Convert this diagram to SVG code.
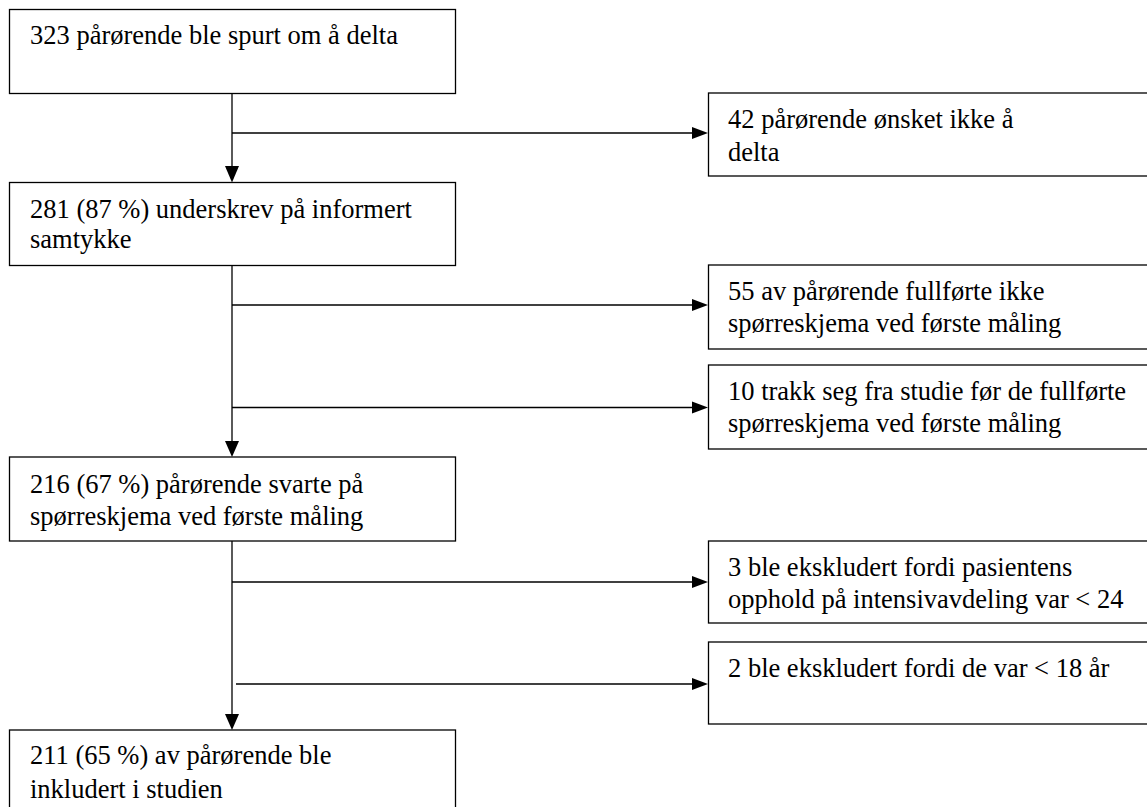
<svg xmlns="http://www.w3.org/2000/svg" width="1147" height="807" viewBox="0 0 1147 807">
<style>
.box{fill:#fff;stroke:#000;stroke-width:1.3}
.ln{fill:none;stroke:#000;stroke-width:1.3}
.ah{fill:#000;stroke:none}
text{font-family:"Liberation Serif","Times New Roman",serif;font-size:26.5px;fill:#000}
</style>
<rect width="1147" height="807" fill="#fff"/>
<g id="connectors">
<line class="ln" x1="232" y1="93.5" x2="232" y2="167"/>
<polygon class="ah" points="225,166 239,166 232,182.5"/>
<line class="ln" x1="232" y1="265.5" x2="232" y2="442"/>
<polygon class="ah" points="225,441 239,441 232,457"/>
<line class="ln" x1="232" y1="541" x2="232" y2="715"/>
<polygon class="ah" points="225,714 239,714 232,730"/>
<line class="ln" x1="232" y1="133" x2="693" y2="133"/>
<polygon class="ah" points="692,127 692,139 708,133"/>
<line class="ln" x1="232" y1="305" x2="693" y2="305"/>
<polygon class="ah" points="692,299 692,311 708,305"/>
<line class="ln" x1="232" y1="407.5" x2="693" y2="407.5"/>
<polygon class="ah" points="692,401.5 692,413.5 708,407.5"/>
<line class="ln" x1="232" y1="582" x2="693" y2="582"/>
<polygon class="ah" points="692,576 692,588 708,582"/>
<line class="ln" x1="236" y1="684" x2="693" y2="684"/>
<polygon class="ah" points="692,678 692,690 708,684"/>
</g>
<g id="n1"><rect class="box" x="9.5" y="9.5" width="446" height="84"/><text x="30" y="44">323 pårørende ble spurt om å delta</text></g>
<g id="n2"><rect class="box" x="9.5" y="182.5" width="446" height="83"/><text x="30" y="218">281 (87 %) underskrev på informert</text><text x="30" y="248">samtykke</text></g>
<g id="n3"><rect class="box" x="9.5" y="457" width="446" height="84"/><text x="30" y="493">216 (67 %) pårørende svarte på</text><text x="30" y="525">spørreskjema ved første måling</text></g>
<g id="n4"><rect class="box" x="9.5" y="730" width="446" height="100"/><text x="30" y="764">211 (65 %) av pårørende ble</text><text x="30" y="798">inkludert i studien</text></g>
<g id="r1"><rect class="box" x="708.5" y="93" width="460" height="83"/><text x="728" y="128">42 pårørende ønsket ikke å</text><text x="728" y="161">delta</text></g>
<g id="r2"><rect class="box" x="708.5" y="265" width="460" height="84"/><text x="728" y="300">55 av pårørende fullførte ikke</text><text x="728" y="332">spørreskjema ved første måling</text></g>
<g id="r3"><rect class="box" x="708.5" y="365" width="460" height="84"/><text x="728" y="400">10 trakk seg fra studie før de fullførte</text><text x="728" y="432">spørreskjema ved første måling</text></g>
<g id="r4"><rect class="box" x="708.5" y="541" width="460" height="82"/><text x="728" y="576">3 ble ekskludert fordi pasientens</text><text x="728" y="608">opphold på intensivavdeling var &lt; 24</text></g>
<g id="r5"><rect class="box" x="708.5" y="642" width="460" height="82"/><text x="728" y="677">2 ble ekskludert fordi de var &lt; 18 år</text></g>
</svg>
